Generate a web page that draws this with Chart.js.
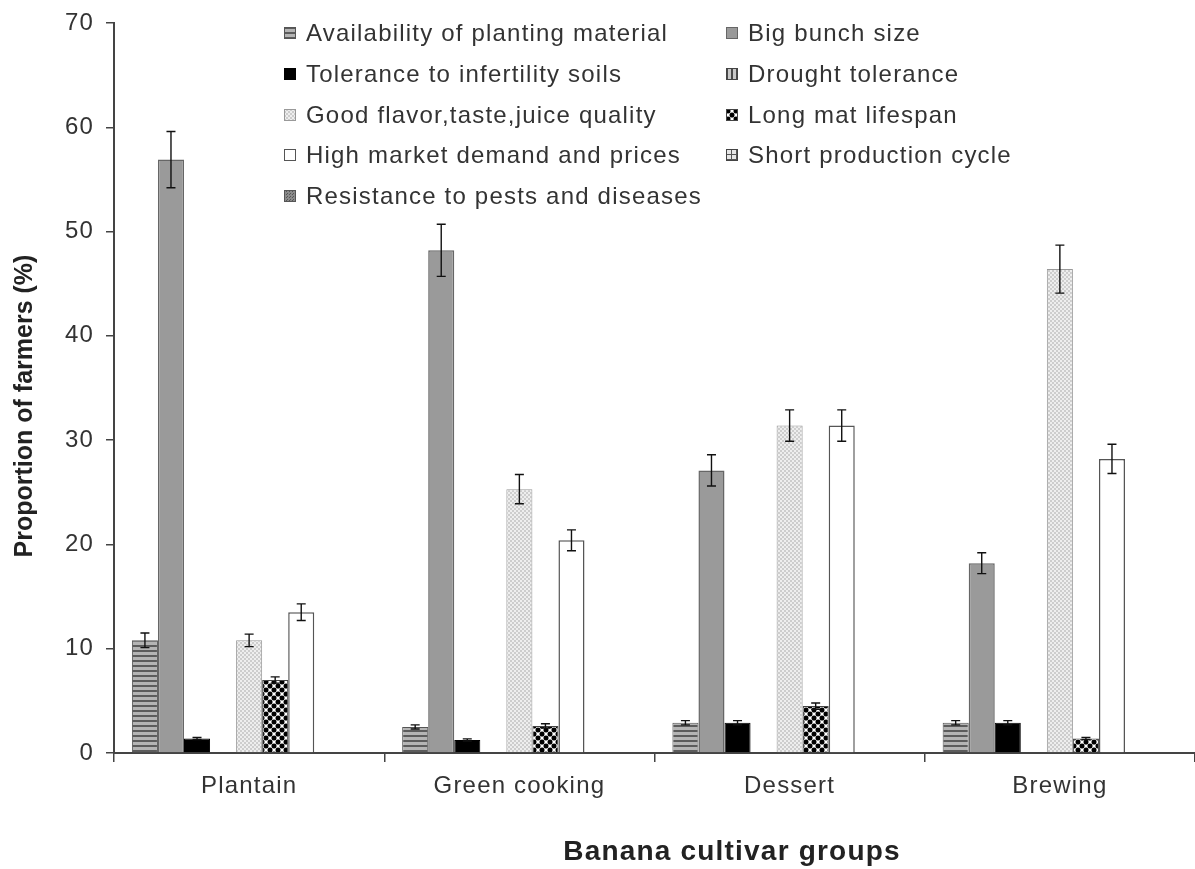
<!DOCTYPE html>
<html><head><meta charset="utf-8">
<script src="https://cdn.jsdelivr.net/npm/chart.js@4.4.0/dist/chart.umd.min.js"></script>
<style>
html,body{margin:0;padding:0;background:#fff;}
#wrap{position:relative;width:1195px;height:869px;}
#legend{position:absolute;left:284px;top:12.6px;display:grid;grid-template-columns:442px auto;font-family:"Liberation Sans",Arial,sans-serif;font-size:24px;letter-spacing:1.2px;color:#333;}
.item{display:flex;align-items:center;height:40.8px;white-space:nowrap;}
.item canvas{margin-right:10px;display:block;}
</style></head><body>
<div id="wrap"><canvas id="c" width="1195" height="869"></canvas><div id="legend"></div></div>
<script>
const categories = ["Plantain", "Green cooking", "Dessert", "Brewing"];
const seriesNames = [
  "Availability of planting material", "Big bunch size",
  "Tolerance to infertility soils", "Drought tolerance",
  "Good flavor,taste,juice quality", "Long mat lifespan",
  "High market demand and prices", "Short production cycle",
  "Resistance to pests and diseases"
];
const yTickLabels = ["0", "10", "20", "30", "40", "50", "60", "70"];
const xTitle = "Banana cultivar groups";
const yTitle = "Proportion of farmers (%)";

// values per series across the 4 cultivar groups
const availability = [10.8, 2.5, 2.9, 2.9];
const bigBunch     = [56.9, 48.2, 27.1, 18.2];
const tolerance    = [1.4, 1.25, 2.9, 2.9];
const drought      = [0, 0, 0, 0];
const flavor       = [10.8, 25.3, 31.4, 46.4];
const longMat      = [7.0, 2.6, 4.5, 1.4];
const highMarket   = [13.5, 20.4, 31.4, 28.2];
const shortCycle   = [0, 0, 0, 0];
const resistance   = [0, 0, 0, 0];

// error bars (±)
const availabilityErr = [0.7, 0.2, 0.2, 0.2];
const bigBunchErr     = [2.7, 2.5, 1.5, 1.0];
const toleranceErr    = [0.1, 0.1, 0.2, 0.2];
const flavorErr       = [0.6, 1.4, 1.5, 2.3];
const longMatErr      = [0.3, 0.2, 0.3, 0.1];
const highMarketErr   = [0.8, 1.0, 1.5, 1.4];

const seriesValues = [availability, bigBunch, tolerance, drought, flavor, longMat, highMarket, shortCycle, resistance];
const seriesErrors = [availabilityErr, bigBunchErr, toleranceErr, null, flavorErr, longMatErr, highMarketErr, null, null];

function tile(w, h, fn) {
  const c = document.createElement('canvas'); c.width = w; c.height = h;
  const g = c.getContext('2d'); fn(g);
  return document.getElementById('c').getContext('2d').createPattern(c, 'repeat');
}
const fills = [
  tile(1, 5, g => { g.fillStyle = '#b4b4b4'; g.fillRect(0,0,1,5); g.fillStyle = '#5c5c5c'; g.fillRect(0,0,1,2); }),
  '#9a9a9a',
  '#000000',
  tile(5, 1, g => { g.fillStyle = '#c8c8c8'; g.fillRect(0,0,5,1); g.fillStyle = '#4a4a4a'; g.fillRect(0,0,2,1); }),
  tile(4, 4, g => { g.fillStyle = '#cdcdcd'; g.fillRect(0,0,4,4); g.fillStyle = '#eeeeee'; g.fillRect(0,0,2,2); g.fillRect(2,2,2,2); }),
  tile(8, 8, g => { g.fillStyle = '#ffffff'; g.fillRect(0,0,8,8); g.fillStyle = '#000';
    [[2,2],[6,6],[-2,6],[6,-2],[10,2],[2,10]].forEach(p => { g.beginPath(); g.arc(p[0], p[1], 2.5, 0, Math.PI*2); g.fill(); }); }),
  '#ffffff',
  tile(5, 5, g => { g.fillStyle = '#e6e6e6'; g.fillRect(0,0,5,5); g.fillStyle = '#555'; g.fillRect(0,0,5,1); g.fillRect(0,0,1,5); }),
  tile(3, 3, g => { g.fillStyle = '#8a8a8a'; g.fillRect(0,0,3,3); g.fillStyle = '#555'; g.fillRect(0,0,1,1); g.fillRect(2,1,1,1); })
];
const borders = ['#555', '#666', '#000', '#444', '#999', '#444', '#555', '#444', '#555'];
const borderWidths = [1, 1.5, 1, 1, 1, 1, 1.5, 1, 1];

const datasets = seriesNames.map((name, i) => ({
  label: name,
  data: seriesValues[i],
  backgroundColor: fills[i],
  borderColor: borders[i],
  borderWidth: borderWidths[i],
  borderSkipped: 'bottom',
  barPercentage: 1.0,
  categoryPercentage: 0.8675
}));

const spacingPlugin = {
  id: 'spacing',
  beforeLayout(chart) { chart.ctx.letterSpacing = '1.2px'; },
  beforeDraw(chart) { chart.ctx.letterSpacing = '1.2px'; }
};

const errorBarPlugin = {
  id: 'errbars',
  afterDatasetsDraw(chart) {
    const ctx = chart.ctx, ys = chart.scales.y;
    ctx.save();
    ctx.strokeStyle = '#111'; ctx.lineWidth = 1.4;
    chart.data.datasets.forEach((ds, di) => {
      const errs = seriesErrors[di];
      if (!errs) return;
      chart.getDatasetMeta(di).data.forEach((bar, i) => {
        const e = errs[i]; if (!e) return;
        const v = ds.data[i];
        const x = bar.x, yt = ys.getPixelForValue(v + e), yb = ys.getPixelForValue(v - e);
        ctx.beginPath();
        ctx.moveTo(x, yt); ctx.lineTo(x, yb);
        ctx.moveTo(x - 4.5, yt); ctx.lineTo(x + 4.5, yt);
        ctx.moveTo(x - 4.5, yb); ctx.lineTo(x + 4.5, yb);
        ctx.stroke();
      });
    });
    ctx.restore();
  }
};

const titlePlugin = {
  id: 'axisTitles',
  afterDraw(chart) {
    const ctx = chart.ctx;
    ctx.save();
    ctx.fillStyle = '#222';
    ctx.textAlign = 'center'; ctx.textBaseline = 'middle';
    ctx.letterSpacing = '1.2px';
    ctx.font = 'bold 28px "Liberation Sans", Arial, sans-serif';
    ctx.fillText(xTitle, 732, 852);
    ctx.letterSpacing = '0px';
    ctx.translate(25, 406);
    ctx.rotate(-Math.PI / 2);
    ctx.font = 'bold 25px "Liberation Sans", Arial, sans-serif';
    ctx.fillText(yTitle, 0, 0);
    ctx.restore();
  }
};

new Chart(document.getElementById('c'), {
  type: 'bar',
  data: { labels: categories, datasets },
  plugins: [spacingPlugin, errorBarPlugin, titlePlugin],
  options: {
    responsive: false,
    animation: false,
    layout: { padding: { top: 23, right: 0, bottom: 0, left: 0 } },
    plugins: { legend: { display: false }, tooltip: { enabled: false } },
    scales: {
      x: {
        offset: true,
        grid: { offset: true, drawOnChartArea: false, drawTicks: true, tickLength: 9, color: '#444', lineWidth: 1.5 },
        border: { display: true, color: '#444', width: 2 },
        ticks: { color: '#333', padding: 10, font: { family: '"Liberation Sans", Arial, sans-serif', size: 24 } },
        afterFit(s) { s.height = 116; s.paddingLeft = 0; s.paddingRight = 0; }
      },
      y: {
        min: 0, max: 70,
        grid: { drawOnChartArea: false, drawTicks: true, tickLength: 8, color: '#444', lineWidth: 1.5 },
        border: { display: true, color: '#444', width: 2 },
        ticks: {
          stepSize: 10, color: '#333', padding: 12,
          font: { family: '"Liberation Sans", Arial, sans-serif', size: 24 },
          callback: (v, i) => yTickLabels[i]
        },
        afterFit(s) { s.width = 114; s.paddingTop = 0; s.paddingBottom = 0; }
      }
    }
  }
});

// HTML legend (two columns, row-major like the reference)
const legend = document.getElementById('legend');
seriesNames.forEach((name, i) => {
  const item = document.createElement('div'); item.className = 'item';
  const sw = document.createElement('canvas'); sw.width = 12; sw.height = 12;
  const g = sw.getContext('2d');
  g.fillStyle = fills[i]; g.fillRect(0, 0, 12, 12);
  g.strokeStyle = borders[i]; g.lineWidth = 1; g.strokeRect(0.5, 0.5, 11, 11);
  const t = document.createElement('span'); t.textContent = name;
  item.appendChild(sw); item.appendChild(t);
  legend.appendChild(item);
});
</script>
</body></html>
